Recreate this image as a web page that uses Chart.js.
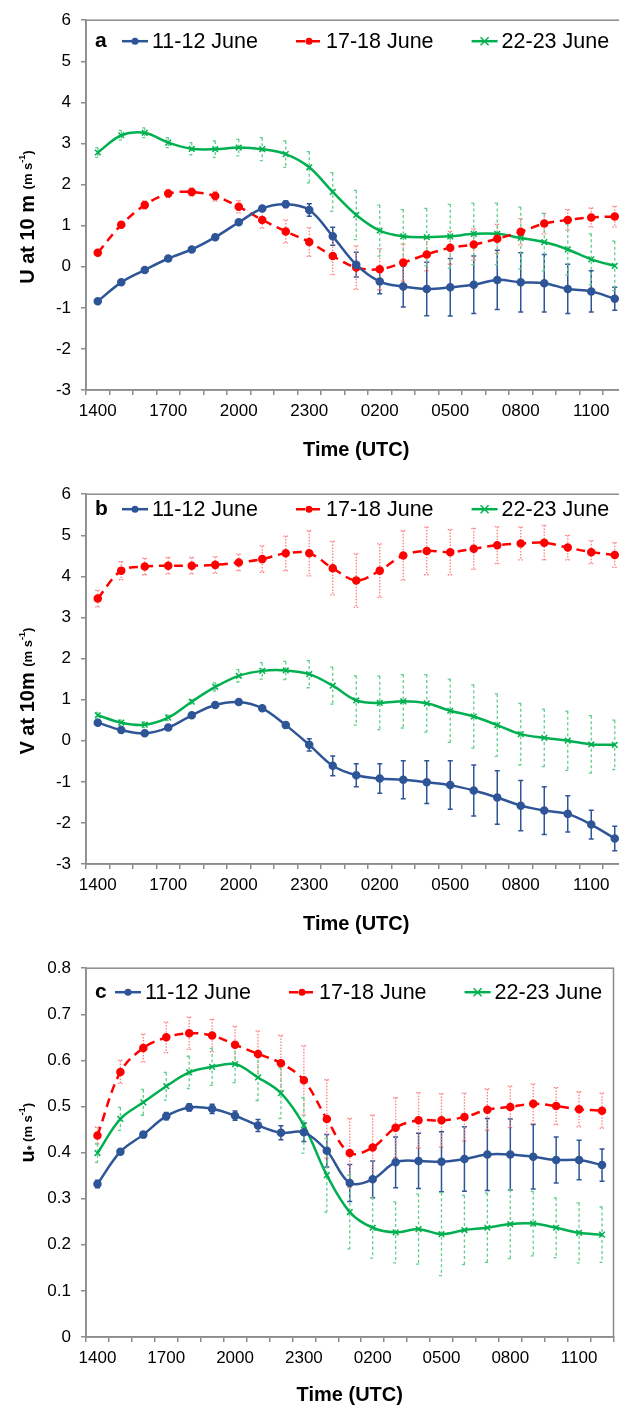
<!DOCTYPE html>
<html lang="en">
<head>
<meta charset="UTF-8">
<title>U, V and u* at 10 m – June</title>
<script src="https://cdn.jsdelivr.net/npm/chart.js"></script>
<style>
  html, body { margin: 0; padding: 0; background: #fff; overflow: hidden; }
  body { width: 619px; height: 1405px; position: relative; }
  canvas { position: absolute; left: 0; }
  #chartA { top: 0; }
  #chartB { top: 474px; }
  #chartC { top: 948px; }
</style>
</head>
<body>

<canvas id="chartA" width="640" height="465"></canvas>
<canvas id="chartB" width="640" height="465"></canvas>
<canvas id="chartC" width="619" height="462"></canvas>

<script>
// hourly categories, 1400 UTC to 1200 UTC next day
const hours = ['1400','1500','1600','1700','1800','1900','2000','2100','2200','2300',
  '0000','0100','0200','0300','0400','0500','0600','0700','0800','0900','1000','1100','1200'];
const seriesNames = ['11-12 June', '17-18 June', '22-23 June'];

// (a) U at 10 m
const uJun11 = [-0.84,-0.38,-0.08,0.2,0.42,0.72,1.08,1.42,1.52,1.38,0.74,0.05,-0.36,-0.48,-0.54,-0.5,-0.44,-0.32,-0.38,-0.4,-0.54,-0.6,-0.78];
const uJun11Err = [0.05,0.04,0.04,0.04,0.04,0.05,0.05,0.06,0.08,0.15,0.22,0.3,0.3,0.5,0.65,0.7,0.7,0.72,0.72,0.7,0.6,0.5,0.28];
const uJun17 = [0.34,1.02,1.5,1.78,1.82,1.72,1.46,1.14,0.86,0.6,0.26,-0.02,-0.06,0.1,0.3,0.46,0.54,0.68,0.85,1.05,1.14,1.2,1.22];
const uJun17Err = [0.05,0.06,0.1,0.1,0.1,0.12,0.15,0.2,0.28,0.35,0.45,0.53,0.5,0.45,0.4,0.4,0.38,0.35,0.32,0.25,0.25,0.23,0.25];
const uJun22 = [2.78,3.2,3.26,3.02,2.87,2.86,2.9,2.86,2.74,2.42,1.82,1.26,0.88,0.74,0.72,0.74,0.8,0.8,0.7,0.6,0.42,0.18,0.02];
const uJun22Err = [0.12,0.12,0.12,0.12,0.15,0.2,0.2,0.28,0.32,0.38,0.47,0.6,0.62,0.65,0.7,0.78,0.75,0.75,0.75,0.7,0.62,0.62,0.6];

// (b) V at 10 m
const vJun11 = [0.44,0.26,0.18,0.32,0.62,0.87,0.94,0.79,0.38,-0.1,-0.61,-0.84,-0.92,-0.95,-1.01,-1.08,-1.21,-1.38,-1.58,-1.7,-1.78,-2.04,-2.38];
const vJun11Err = [0.05,0.05,0.05,0.05,0.05,0.05,0.05,0.05,0.07,0.15,0.24,0.28,0.36,0.46,0.52,0.59,0.62,0.65,0.61,0.58,0.44,0.35,0.3];
const vJun17 = [3.46,4.14,4.24,4.26,4.26,4.28,4.34,4.42,4.56,4.56,4.2,3.9,4.14,4.51,4.62,4.59,4.67,4.76,4.8,4.82,4.7,4.59,4.52];
const vJun17Err = [0.2,0.22,0.2,0.2,0.2,0.2,0.2,0.32,0.42,0.55,0.65,0.65,0.65,0.6,0.58,0.55,0.5,0.45,0.4,0.42,0.3,0.28,0.3];
const vJun22 = [0.62,0.44,0.39,0.56,0.95,1.31,1.58,1.7,1.71,1.62,1.34,0.98,0.92,0.96,0.91,0.73,0.59,0.38,0.16,0.07,0.0,-0.09,-0.1];
const vJun22Err = [0.07,0.07,0.07,0.07,0.05,0.1,0.15,0.2,0.22,0.33,0.45,0.6,0.65,0.65,0.7,0.77,0.77,0.76,0.75,0.7,0.72,0.7,0.6];

// (c) friction velocity u*
const sJun11 = [0.332,0.402,0.439,0.479,0.498,0.495,0.48,0.459,0.443,0.444,0.404,0.334,0.342,0.379,0.382,0.38,0.386,0.396,0.396,0.391,0.384,0.384,0.373];
const sJun11Err = [0.008,0.005,0.006,0.008,0.008,0.01,0.01,0.013,0.015,0.02,0.035,0.04,0.04,0.055,0.06,0.065,0.07,0.078,0.077,0.07,0.05,0.043,0.035];
const sJun17 = [0.437,0.575,0.627,0.65,0.659,0.654,0.634,0.614,0.594,0.557,0.473,0.399,0.411,0.454,0.47,0.47,0.477,0.493,0.499,0.506,0.501,0.494,0.491];
const sJun17Err = [0.018,0.025,0.03,0.033,0.035,0.035,0.04,0.05,0.06,0.075,0.085,0.075,0.07,0.065,0.06,0.058,0.052,0.045,0.045,0.043,0.04,0.038,0.038];
const sJun22 = [0.399,0.473,0.509,0.544,0.574,0.586,0.592,0.563,0.529,0.459,0.351,0.271,0.237,0.227,0.234,0.223,0.232,0.237,0.245,0.246,0.237,0.226,0.222];
const sJun22Err = [0.02,0.025,0.028,0.03,0.035,0.04,0.04,0.05,0.055,0.06,0.08,0.08,0.066,0.066,0.076,0.09,0.075,0.075,0.075,0.07,0.065,0.065,0.06];

const FONT = '"Liberation Sans", Arial, sans-serif';
Chart.defaults.font.family = FONT;
Chart.defaults.color = '#000';

const BLUE = '#2E5597', RED = '#FF0000', GREEN = '#00B050';
const AXIS = '#8C8C8C';

// draw a marker (used for the in-plot legend)
function marker(ctx, style, r, color, x, y) {
  ctx.save();
  ctx.fillStyle = color; ctx.strokeStyle = color; ctx.lineWidth = 1.5; ctx.setLineDash([]);
  ctx.beginPath();
  if (style === 'crossRot') {
    ctx.moveTo(x - r, y - r); ctx.lineTo(x + r, y + r);
    ctx.moveTo(x - r, y + r); ctx.lineTo(x + r, y - r);
    ctx.stroke();
  } else {
    ctx.arc(x, y, r, 0, Math.PI * 2); ctx.fill();
  }
  ctx.restore();
}

// vertical error bars with caps, drawn under the lines
const errorBars = {
  id: 'errorBars',
  beforeDatasetsDraw(chart) {
    const ctx = chart.ctx, xs = chart.scales.x, ys = chart.scales.y;
    chart.data.datasets.forEach(ds => {
      ctx.save();
      ctx.strokeStyle = ds.errColor; ctx.lineWidth = ds.errWidth; ctx.setLineDash(ds.errDash);
      ds.data.forEach((v, i) => {
        const x = xs.getPixelForValue(i);
        const y1 = ys.getPixelForValue(v + ds.errors[i]);
        const y2 = ys.getPixelForValue(v - ds.errors[i]);
        ctx.beginPath();
        ctx.moveTo(x, y1); ctx.lineTo(x, y2);
        ctx.moveTo(x - 2.5, y1); ctx.lineTo(x + 2.5, y1);
        ctx.moveTo(x - 2.5, y2); ctx.lineTo(x + 2.5, y2);
        ctx.stroke();
      });
      ctx.restore();
    });
  }
};

// plot frame, panel letter, legend inside the plot and the y title with small units
const decorations = {
  id: 'decorations',
  afterDraw(chart, args, opts) {
    const ctx = chart.ctx, a = chart.chartArea;
    ctx.save();
    ctx.strokeStyle = AXIS; ctx.lineWidth = 1.5;
    ctx.strokeRect(a.left, a.top, a.right - a.left, a.bottom - a.top);

    const ly = a.top + opts.legendY;
    ctx.fillStyle = '#000'; ctx.textBaseline = 'middle'; ctx.textAlign = 'left';
    ctx.font = 'bold 21px ' + FONT;
    ctx.fillText(opts.letter, a.left + 9, ly);
    ctx.font = '21.5px ' + FONT;
    let x = a.left + opts.legendX;
    chart.data.datasets.forEach(ds => {
      ctx.strokeStyle = ds.borderColor; ctx.lineWidth = 2.5;
      ctx.setLineDash(ds.borderDash || []);
      ctx.beginPath(); ctx.moveTo(x, ly); ctx.lineTo(x + 26, ly); ctx.stroke();
      ctx.setLineDash([]);
      marker(ctx, ds.pointStyle, ds.pointRadius, ds.borderColor, x + 13, ly);
      ctx.fillStyle = '#000';
      ctx.fillText(ds.label, x + 30, ly + 1);
      x += 30 + ctx.measureText(ds.label).width + 38;
    });

    // rotated y-axis title built from parts of different sizes
    ctx.translate(opts.titleX, (a.top + a.bottom) / 2 + opts.titleShift);
    ctx.rotate(-Math.PI / 2);
    let w = 0;
    opts.title.forEach(p => { ctx.font = p.f + ' ' + FONT; w += ctx.measureText(p.t).width; });
    let tx = -w / 2;
    opts.title.forEach(p => {
      ctx.font = p.f + ' ' + FONT;
      ctx.fillText(p.t, tx, p.dy || 0);
      tx += ctx.measureText(p.t).width;
    });
    ctx.restore();
  }
};

function series(data, errs, i) {
  const styles = [
    { color: BLUE, dash: [], point: 'circle', r: 3.5, errColor: BLUE, errDash: [], errWidth: 1.5 },
    { color: RED, dash: [9, 6], point: 'circle', r: 3.5, errColor: '#FF7F7F', errDash: [1.5, 1.5], errWidth: 1.3 },
    { color: GREEN, dash: [], point: 'crossRot', r: 4, errColor: '#5FD08A', errDash: [3, 2.5], errWidth: 1.3 }
  ][i];
  return {
    label: seriesNames[i],
    data: data,
    errors: errs,
    borderColor: styles.color,
    backgroundColor: styles.color,
    borderWidth: 2.5,
    borderDash: styles.dash,
    pointStyle: styles.point,
    pointRadius: styles.r,
    pointBorderWidth: 1.5,
    tension: 0.35,
    errColor: styles.errColor,
    errDash: styles.errDash,
    errWidth: styles.errWidth
  };
}

function makeChart(id, sets, yMin, yMax, yStep, axisH, padRight, deco) {
  return new Chart(document.getElementById(id), {
    type: 'line',
    data: { labels: hours, datasets: sets },
    plugins: [errorBars, decorations],
    options: {
      responsive: false,
      animation: false,
      layout: { padding: { left: 0, top: 15, right: padRight, bottom: 0 } },
      plugins: {
        legend: { display: false },
        tooltip: { enabled: false },
        decorations: deco
      },
      scales: {
        x: {
          offset: true,
          grid: { offset: true, drawOnChartArea: false, drawTicks: true, tickLength: 5, color: AXIS, lineWidth: 1.5 },
          border: { color: AXIS, width: 1.5 },
          ticks: {
            autoSkip: false, maxRotation: 0, padding: 6, font: { size: 17 },
            callback: (v, i) => i % 3 === 0 ? hours[i] : ''
          },
          title: { display: true, text: 'Time (UTC)', font: { size: 20, weight: 'bold' }, padding: { top: 10, bottom: 3 } },
          afterFit: s => { s.height = axisH; }
        },
        y: {
          min: yMin, max: yMax,
          grid: { drawOnChartArea: false, drawTicks: true, tickLength: 5, color: AXIS, lineWidth: 1.5 },
          border: { color: AXIS, width: 1.5 },
          ticks: { stepSize: yStep, padding: 10, font: { size: 17 } },
          afterFit: s => { s.width = 86; }
        }
      }
    }
  });
}

makeChart('chartA', [series(uJun11, uJun11Err, 0), series(uJun17, uJun17Err, 1), series(uJun22, uJun22Err, 2)],
  -3, 6, 1, 75, 13.5, {
    letter: 'a', legendX: 36, legendY: 21, titleX: 28, titleShift: 12,
    title: [{ t: 'U at 10 m ', f: 'bold 20px' }, { t: '(m s', f: 'bold 13px' }, { t: '-1', f: 'bold 9px', dy: -5 }, { t: ')', f: 'bold 13px' }]
  });

makeChart('chartB', [series(vJun11, vJun11Err, 0), series(vJun17, vJun17Err, 1), series(vJun22, vJun22Err, 2)],
  -3, 6, 1, 75, 13.5, {
    letter: 'b', legendX: 36, legendY: 15, titleX: 28, titleShift: 12,
    title: [{ t: 'V at 10m ', f: 'bold 20px' }, { t: '(m s', f: 'bold 13px' }, { t: '-1', f: 'bold 9px', dy: -5 }, { t: ')', f: 'bold 13px' }]
  });

makeChart('chartC', [series(sJun11, sJun11Err, 0), series(sJun17, sJun17Err, 1), series(sJun22, sJun22Err, 2)],
  0, 0.8, 0.1, 73, 2.4, {
    letter: 'c', legendX: 29, legendY: 24, titleX: 28, titleShift: -20,
    title: [{ t: 'u', f: 'bold 20px' }, { t: '*', f: 'bold 12px', dy: 5 }, { t: ' (m s', f: 'bold 13px' }, { t: '-1', f: 'bold 9px', dy: -5 }, { t: ')', f: 'bold 13px' }]
  });
</script>
</body>
</html>
